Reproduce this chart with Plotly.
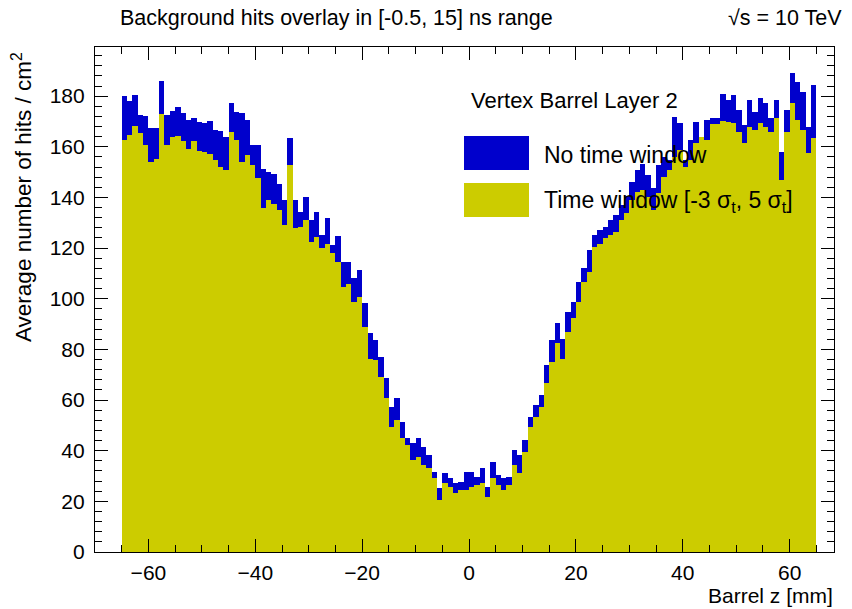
import plotly.graph_objects as go

# Histogram binning along the barrel: 130 bins of 1 mm in [-65, 65] mm
z_low, z_high, n_bins = -65.0, 65.0, 130
bin_width = (z_high - z_low) / n_bins
bin_centers = [z_low + bin_width * (i + 0.5) for i in range(n_bins)]

# Average hits / cm^2 per bin, no time window applied
hits_no_window = [
    180.0, 178.0, 180.5, 172.5, 172.0, 167.5, 167.5, 186.0, 172.5, 174.0,
    175.8, 173.2, 170.5, 171.4, 169.9, 169.2, 170.1, 166.6, 166.2, 164.0,
    177.4, 173.8, 173.2, 170.5, 160.7, 160.7, 151.4, 149.9, 149.1, 145.5,
    139.0, 163.6, 139.0, 134.3, 140.3, 131.0, 134.3, 125.1, 131.7, 121.2,
    124.7, 114.6, 114.6, 108.0, 111.3, 98.2, 86.3, 83.7, 77.1, 68.6,
    57.4, 60.7, 51.4, 44.9, 42.9, 44.9, 41.6, 38.3, 31.7, 25.1,
    31.1, 29.1, 27.1, 27.8, 31.7, 31.7, 29.7, 33.0, 25.8, 35.7,
    30.4, 29.1, 29.7, 40.3, 38.3, 44.2, 53.4, 58.0, 62.0, 73.8,
    83.7, 90.3, 84.3, 94.9, 98.8, 106.7, 112.0, 119.2, 125.1, 127.1,
    128.4, 131.0, 133.0, 137.0, 140.5, 146.0, 151.0, 153.4, 148.8, 143.6,
    152.8, 156.1, 154.7, 171.6, 169.2, 154.7, 162.6, 169.9, 163.3, 170.5,
    171.2, 171.2, 181.0, 178.4, 180.4, 174.5, 168.6, 178.4, 173.8, 179.1,
    177.1, 171.2, 178.4, 157.8, 174.5, 189.2, 185.7, 181.7, 167.9, 184.3,
]

# Average hits / cm^2 per bin, time window [-3 sigma_t, 5 sigma_t]
hits_time_window = [
    162.6, 164.5, 168.2, 165.3, 160.7, 154.0, 155.0, 172.8, 160.7, 164.0,
    164.2, 162.2, 159.3, 162.2, 158.3, 158.0, 157.0, 154.7, 152.1, 151.0,
    165.9, 162.6, 154.1, 156.7, 152.8, 147.5, 135.7, 139.0, 137.6, 135.0,
    129.1, 153.0, 128.0, 128.4, 131.0, 122.5, 124.5, 119.9, 121.8, 117.9,
    114.6, 104.7, 106.0, 98.8, 100.8, 88.9, 76.4, 75.8, 69.2, 60.7,
    49.5, 52.1, 44.9, 42.2, 36.3, 37.6, 34.3, 33.0, 29.1, 20.5,
    27.1, 25.8, 23.2, 24.5, 24.5, 25.8, 26.4, 27.1, 21.8, 29.1,
    26.4, 24.5, 26.4, 34.3, 31.1, 39.6, 49.5, 53.4, 57.4, 66.6,
    75.1, 82.4, 76.4, 87.0, 92.2, 98.8, 106.7, 110.7, 120.5, 121.8,
    123.8, 125.1, 126.4, 131.0, 133.7, 139.0, 142.0, 143.0, 140.0, 135.0,
    141.6, 148.2, 150.8, 156.0, 158.7, 152.1, 154.7, 161.3, 164.0, 162.6,
    169.0, 169.0, 170.0, 169.9, 169.2, 165.9, 161.3, 167.9, 166.6, 169.2,
    167.9, 165.9, 171.2, 146.8, 165.9, 177.1, 170.5, 166.6, 157.4, 163.3,
]

series_labels = ["No time window", "Time window [-3 σ<sub>t</sub>, 5 σ<sub>t</sub>]"]
legend_header = "Vertex Barrel Layer 2"
title_text = "Background hits overlay in [-0.5, 15] ns range"
energy_text = "√s = 10 TeV"
x_title = "Barrel z [mm]"
y_title = "Average number of hits / cm<sup>2</sup>"

BLUE = "#0000CC"
OLIVE = "#CCCC00"
FONT = "Liberation Sans, Arial, Helvetica, sans-serif"

W, H = 852, 609
L, R, T, B = 95, 18, 47, 57
PW, PH = W - L - R, H - T - B


def px(x):
    """Horizontal canvas pixel -> paper fraction."""
    return (x - L) / PW


def py(y):
    """Vertical canvas pixel (from top) -> paper fraction."""
    return (H - B - y) / PH


fig = go.Figure()
fig.add_trace(go.Bar(
    x=bin_centers, y=hits_no_window, width=bin_width,
    marker=dict(color=BLUE, line=dict(width=0)), name=series_labels[0],
))
fig.add_trace(go.Bar(
    x=bin_centers, y=hits_time_window, width=bin_width,
    marker=dict(color=OLIVE, line=dict(width=0)), name=series_labels[1],
))

axis_common = dict(
    showline=True, linecolor="black", linewidth=1.2, mirror="ticks",
    ticks="inside", ticklen=13, tickwidth=1, tickcolor="black",
    showgrid=False, zeroline=False,
    tickfont=dict(family=FONT, size=21, color="black"),
)

fig.update_xaxes(
    range=[-70, 68.3], tick0=0, dtick=20,
    minor=dict(ticks="inside", ticklen=7, dtick=5, tick0=0, tickcolor="black", showgrid=False),
    ticklabelstandoff=2,
    **axis_common,
)
fig.update_yaxes(
    range=[0, 199.4], tick0=0, dtick=20,
    minor=dict(ticks="inside", ticklen=7, dtick=4, tick0=0, tickcolor="black", showgrid=False),
    ticklabelstandoff=5,
    **axis_common,
)

annotations = [
    dict(text=title_text, x=px(118), y=py(18), xanchor="left", yanchor="middle",
         font=dict(size=21.5, family=FONT)),
    dict(text=energy_text, x=px(844), y=py(18), xanchor="right", yanchor="middle",
         font=dict(size=21.5, family=FONT)),
    dict(text=x_title, x=px(835), y=py(609), xanchor="right", yanchor="bottom",
         font=dict(size=21, family=FONT)),
    dict(text=y_title, x=px(22), y=py(50), xanchor="center", yanchor="top",
         textangle=-90, font=dict(size=22.5, family=FONT)),
    dict(text=legend_header, x=px(469), y=py(100), xanchor="left", yanchor="middle",
         font=dict(size=22, family=FONT)),
    dict(text=series_labels[0], x=px(542), y=py(155), xanchor="left", yanchor="middle",
         font=dict(size=23, family=FONT)),
    dict(text=series_labels[1], x=px(542), y=py(201), xanchor="left", yanchor="middle",
         font=dict(size=23, family=FONT)),
]
for a in annotations:
    a.update(xref="paper", yref="paper", showarrow=False)

shapes = [
    dict(type="rect", xref="paper", yref="paper", layer="above",
         x0=px(464), x1=px(529), y0=py(170), y1=py(136),
         fillcolor=BLUE, line=dict(width=0)),
    dict(type="rect", xref="paper", yref="paper", layer="above",
         x0=px(464), x1=px(529), y0=py(217), y1=py(183),
         fillcolor=OLIVE, line=dict(width=0)),
]

fig.update_layout(
    width=W, height=H,
    margin=dict(l=L, r=R, t=T, b=B, pad=0),
    barmode="overlay", bargap=0,
    showlegend=False,
    plot_bgcolor="white", paper_bgcolor="white",
    font=dict(family=FONT, color="black"),
    annotations=annotations, shapes=shapes,
)

fig.write_html("out.html")
